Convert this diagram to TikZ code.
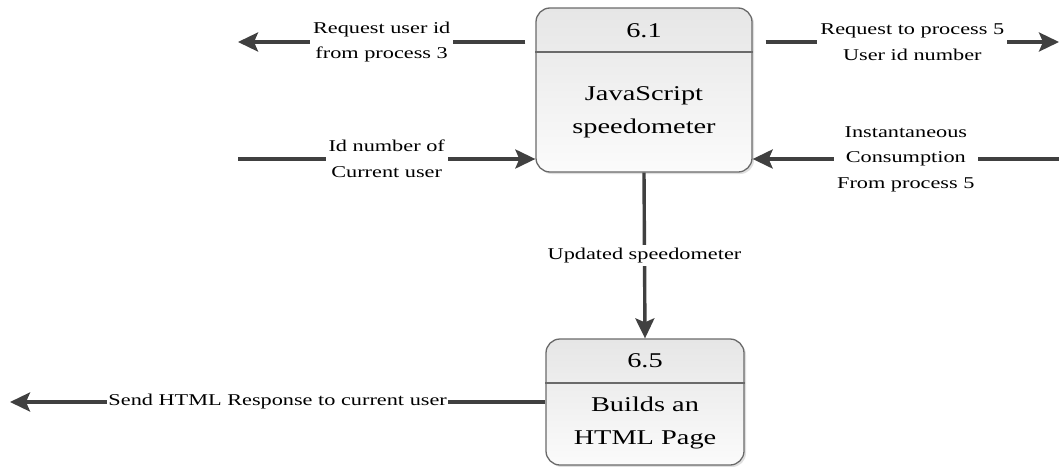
\documentclass[tikz,border=0pt]{standalone}
\usepackage{fontspec}
\setmainfont{Liberation Serif}[FakeStretch=1.35]
\usetikzlibrary{arrows.meta,shadows}
\definecolor{arrowgray}{HTML}{404040}
\definecolor{boxline}{HTML}{6A6A6A}
\definecolor{boxtop}{HTML}{E6E6E6}
\definecolor{boxbot}{HTML}{FBFBFB}
\begin{document}
\begin{tikzpicture}[x=1pt,y=-1pt,
  proc/.style={draw=boxline, line width=1.3pt, rounded corners=14pt, top color=boxtop, bottom color=boxbot,
     drop shadow={opacity=0.25, shadow xshift=2pt, shadow yshift=-2pt}, inner sep=0pt},
  divider/.style={draw=boxline, line width=1.3pt},
  ptext/.style={font=\fontsize{21}{33}\selectfont, align=center, inner sep=0pt},
  flow/.style={draw=arrowgray, line width=3.4pt, -{Stealth[length=20pt,width=19pt,inset=4pt]}},
  lbl/.style={font=\fontsize{16.5}{25.5}\selectfont, align=center, fill=white, inner sep=3pt, text=black}]
\useasboundingbox (0,0) rectangle (1059,466);
\fill[white] (0,0) rectangle (1059,466);
% processes
\node[proc, minimum width=216pt, minimum height=164pt] (p61) at (644,90) {};
\draw[divider] (p61.west |- 0,52) -- (p61.east |- 0,52);
\node[ptext] (t61) at (644,31) {6.1};
\node[ptext] (b61) at (644,112) {JavaScript\\speedometer};
\node[proc, minimum width=198pt, minimum height=126pt] (p65) at (645,402) {};
\draw[divider] (p65.west |- 0,383) -- (p65.east |- 0,383);
\node[ptext] (t65) at (645,361) {6.5};
\node[ptext] (b65) at (645,423) {Builds an\\HTML Page};
% free ends
\coordinate (e1) at (238,42);
\coordinate (e2) at (1059,42);
\coordinate (e3) at (238,159);
\coordinate (e4) at (1059,159);
\coordinate (e6) at (10,402);
% connectors
\draw[flow] ([xshift=-10pt]p61.west |- e1) -- node[lbl] (l1) {Request user id\\from process 3} (e1);
\draw[flow] ([xshift=13pt]p61.east |- e2) -- node[lbl] (l2) {Request to process 5\\User id number} (e2);
\draw[flow] (e3) -- node[lbl] (l3) {Id number of\\Current user} (p61.west |- e3);
\draw[flow] (e4) -- node[lbl] (l4) {Instantaneous\\Consumption\\From process 5} (p61.east |- e4);
\draw[flow] (p61.south) -- node[lbl] (l5) {Updated speedometer} (p65.north);
\draw[flow] (p65.west) -- node[lbl, inner sep=1pt] (l6) {Send HTML Response to current user} (e6);
\end{tikzpicture}
\end{document}
